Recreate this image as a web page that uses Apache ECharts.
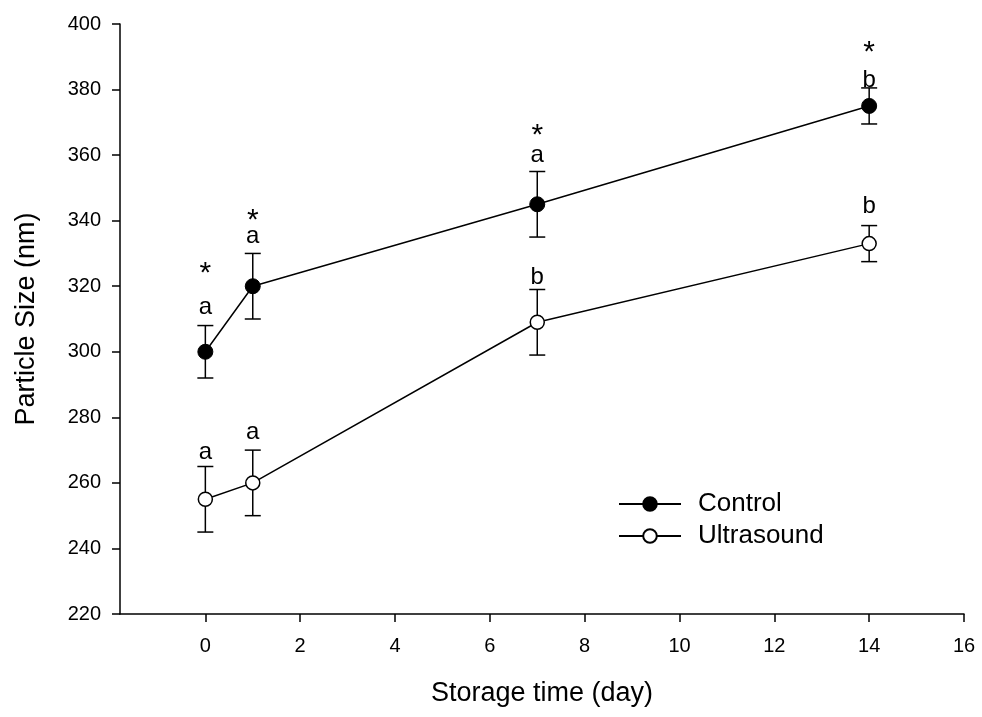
<!DOCTYPE html>
<html><head><meta charset="utf-8">
<script src="https://cdn.jsdelivr.net/npm/echarts@6/dist/echarts.min.js"></script>
<style>html,body{margin:0;padding:0;background:#fff}#c{width:982px;height:717px}</style>
</head><body><div id="c"></div>
<script>
// ---- data ----
const days = [0, 1, 7, 14];
const controlMean = [300, 320, 345, 375];
const controlErr = [8, 10, 10, 5.5];
const ultraMean = [255, 260, 309, 333];
const ultraErr = [10, 10, 10, 5.5];
const controlLetters = ['a', 'a', 'a', 'b'];
const ultraLetters = ['a', 'a', 'b', 'b'];
const controlStars = ['*', '*', '*', '*'];
const xTicks = [0, 2, 4, 6, 8, 10, 12, 14, 16];

// ---- annotation layout (pixel gaps above the error-bar caps, as in the reference) ----
const ctrlLetterGap = [14, 13, 12, 3];
const ultraLetterGap = [10, 13, 8, 15];
const ctrlStarGap = [42, 24, 28, 37];

// ---- rendering ----
const FONT = '"Liberation Sans", Arial, sans-serif';
const pairs = m => days.map((d, i) => [d, m[i]]);
const errData = (m, e) => days.map((d, i) => [d, m[i] - e[i], m[i] + e[i]]);

function errRender(params, api) {
  const x = api.value(0), lo = api.value(1), hi = api.value(2);
  const a = api.coord([x, hi]), b = api.coord([x, lo]);
  const hw = 8;
  const st = { stroke: '#000', lineWidth: 1.5 };
  return { type: 'group', children: [
    { type: 'line', shape: { x1: a[0], y1: a[1], x2: b[0], y2: b[1] }, style: st },
    { type: 'line', shape: { x1: a[0] - hw, y1: a[1], x2: a[0] + hw, y2: a[1] }, style: st },
    { type: 'line', shape: { x1: b[0] - hw, y1: b[1], x2: b[0] + hw, y2: b[1] }, style: st }
  ]};
}

function annRender(letters, letterGap, stars, starGap) {
  return function (params, api) {
    const i = params.dataIndex;
    const p = api.coord([api.value(0), api.value(2)]);
    const baseline = p[1] - letterGap[i];
    const children = [{
      type: 'text',
      style: { text: letters[i], x: p[0], y: baseline - 4.3, fill: '#000',
               font: '24px ' + FONT, align: 'center', verticalAlign: 'middle' }
    }];
    if (stars && stars[i]) {
      children.push({
        type: 'text',
        style: { text: stars[i], x: p[0], y: baseline - starGap[i] + 4.6, fill: '#000',
                 font: '30px ' + FONT, align: 'center', verticalAlign: 'middle' }
      });
    }
    return { type: 'group', children };
  };
}

const chart = echarts.init(document.getElementById('c'), null, { renderer: 'canvas' });
chart.setOption({
  backgroundColor: '#fff',
  animation: false,
  textStyle: { fontFamily: FONT },
  grid: { left: 120, right: 18, top: 24, bottom: 103, containLabel: false, outerBoundsMode: 'none' },
  legend: {
    data: ['Control', 'Ultrasound'],
    orient: 'vertical', left: 618, top: 491, padding: 0,
    itemWidth: 62, itemHeight: 17, itemGap: 6,
    textStyle: { fontSize: 26, color: '#000', fontFamily: FONT, padding: [0, 0, 0, 12] },
    selectedMode: false
  },
  xAxis: {
    type: 'value', min: -1.8, max: 16,
    axisLine: { show: true, onZero: false, lineStyle: { color: '#000', width: 1.5 } },
    axisTick: { show: true, length: 8, customValues: xTicks, lineStyle: { color: '#000', width: 1.5 } },
    axisLabel: { customValues: xTicks, fontSize: 20, color: '#000', margin: 22, fontFamily: FONT },
    splitLine: { show: false },
    name: 'Storage time (day)', nameLocation: 'middle', nameGap: 66,
    nameTextStyle: { fontSize: 27, color: '#000', fontFamily: FONT }
  },
  yAxis: {
    type: 'value', min: 220, max: 400, interval: 20,
    axisLine: { show: true, onZero: false, lineStyle: { color: '#000', width: 1.5 } },
    axisTick: { show: true, length: 8, lineStyle: { color: '#000', width: 1.5 } },
    axisLabel: { fontSize: 20, color: '#000', margin: 19, fontFamily: FONT },
    splitLine: { show: false },
    name: 'Particle Size (nm)', nameLocation: 'middle', nameGap: 80,
    nameTextStyle: { fontSize: 27, color: '#000', fontFamily: FONT }
  },
  series: [
    { type: 'custom', name: 'ctrlErr', renderItem: errRender, data: errData(controlMean, controlErr),
      encode: { x: 0, y: [1, 2] }, z: 1, silent: true },
    { type: 'custom', name: 'ultraErr', renderItem: errRender, data: errData(ultraMean, ultraErr),
      encode: { x: 0, y: [1, 2] }, z: 1, silent: true },
    { type: 'custom', name: 'ctrlAnn', renderItem: annRender(controlLetters, ctrlLetterGap, controlStars, ctrlStarGap),
      data: errData(controlMean, controlErr), encode: { x: 0, y: [1, 2] }, z: 3, silent: true },
    { type: 'custom', name: 'ultraAnn', renderItem: annRender(ultraLetters, ultraLetterGap, null, null),
      data: errData(ultraMean, ultraErr), encode: { x: 0, y: [1, 2] }, z: 3, silent: true },
    { type: 'line', name: 'Control', data: pairs(controlMean), symbol: 'circle', symbolSize: 15,
      lineStyle: { color: '#000', width: 1.5 }, itemStyle: { color: '#000', borderColor: '#000', borderWidth: 1 },
      z: 5 },
    { type: 'line', name: 'Ultrasound', data: pairs(ultraMean), symbol: 'circle', symbolSize: 14,
      lineStyle: { color: '#000', width: 1.5 }, itemStyle: { color: '#fff', borderColor: '#000', borderWidth: 1.5 },
      z: 5 }
  ]
});
</script>
</body></html>
